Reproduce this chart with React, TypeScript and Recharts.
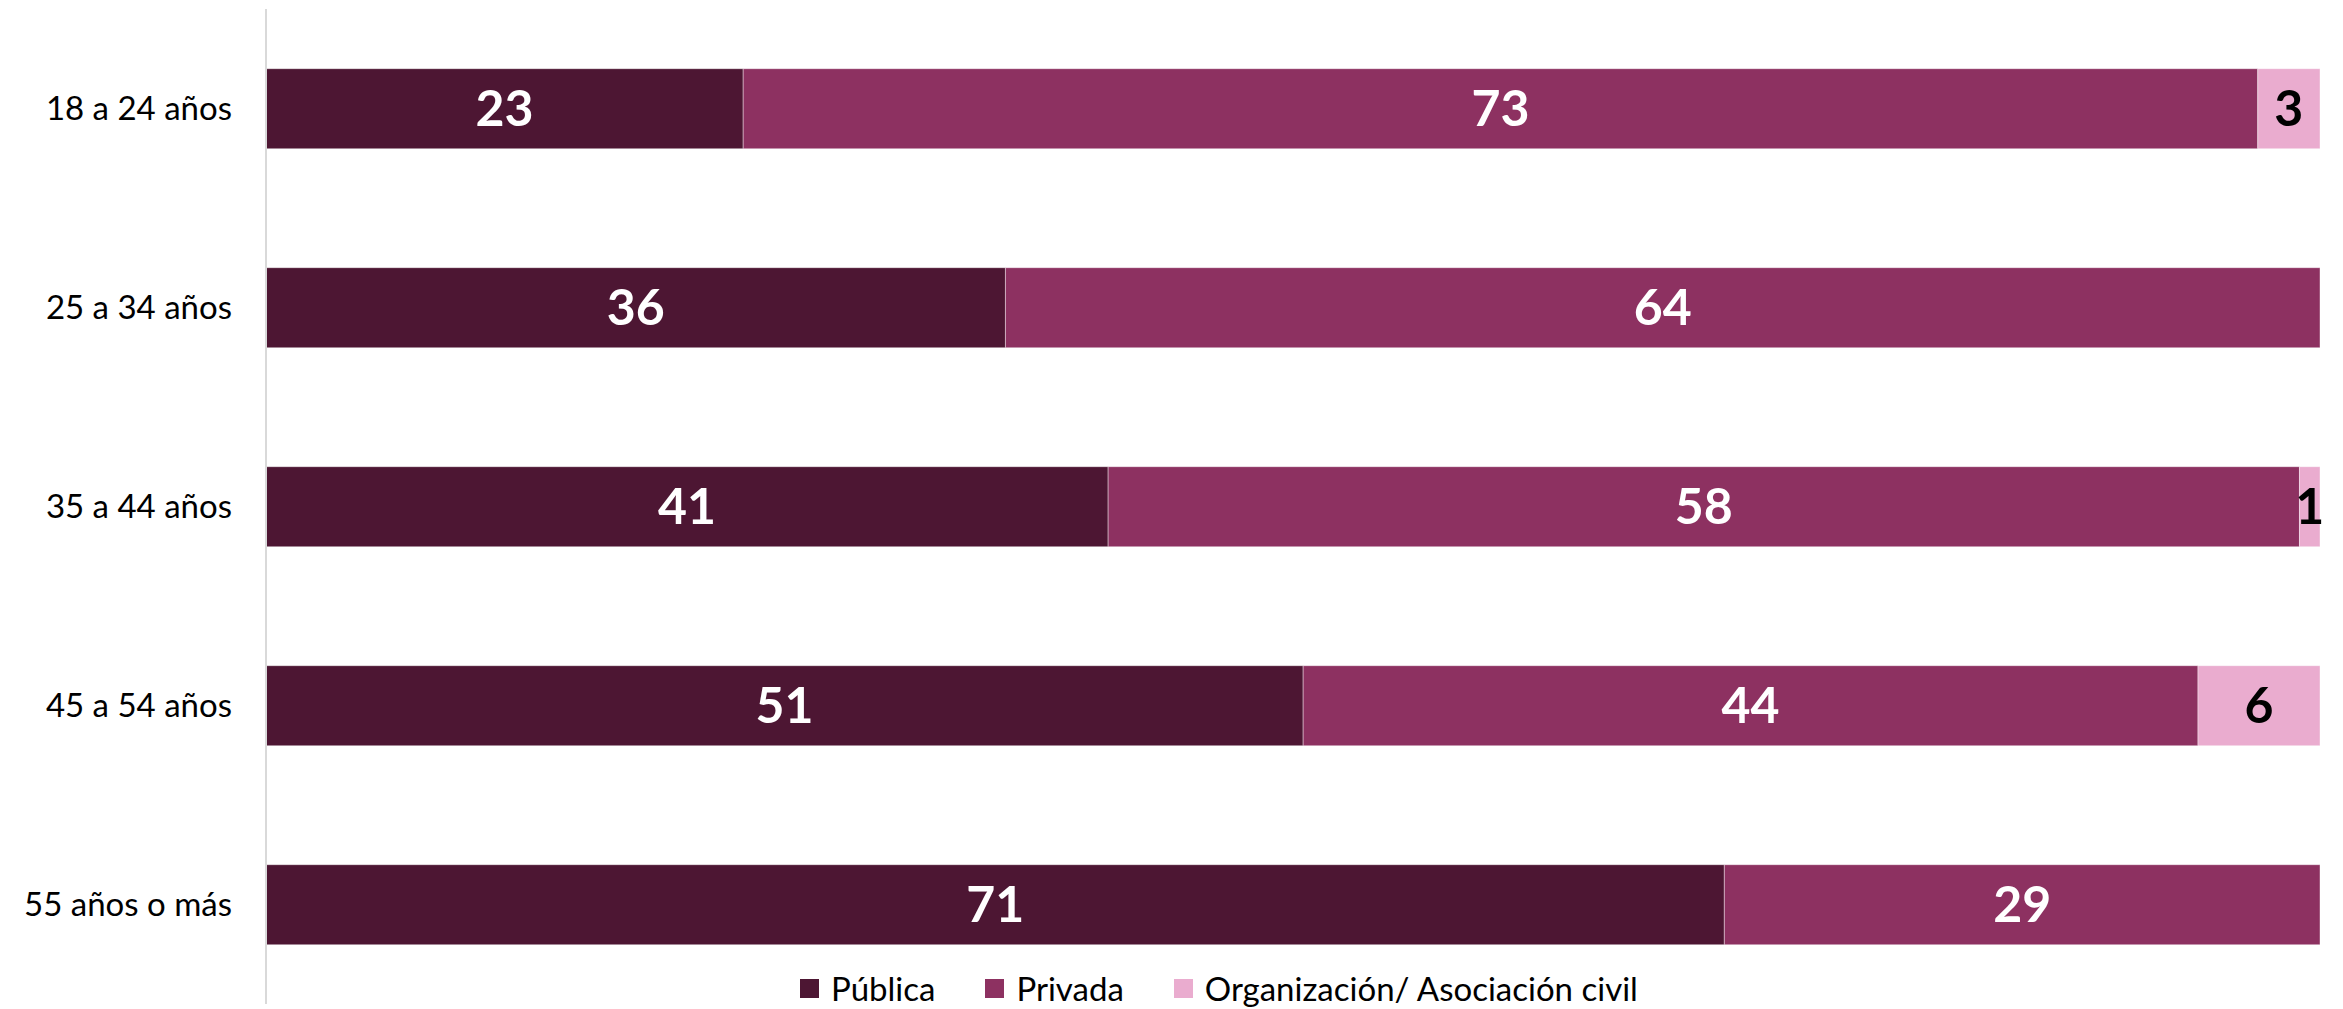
import { BarChart, Bar, XAxis, YAxis, LabelList, Legend } from 'recharts'

const categories = ['18 a 24 años', '25 a 34 años', '35 a 44 años', '45 a 54 años', '55 años o más']
const publica = [23, 36, 41, 51, 71]
const privada = [73, 64, 58, 44, 29]
const organizacion = [3, 0, 1, 6, 0]

const seriesNames = ['Pública', 'Privada', 'Organización/ Asociación civil']
const colors = ['#4D1633', '#8D3161', '#EAACCF']

const data = categories.map((c, i) => ({
  name: c,
  publica: publica[i],
  privada: privada[i],
  organizacion: organizacion[i],
}))

const FONT = 'Lato, "Open Sans", sans-serif'

const hideZero = (v: any) => (Number(v) === 0 ? '' : v)

function LegendContent() {
  return (
    <div style={{ display: 'flex', alignItems: 'center', height: 38, fontFamily: FONT, fontSize: 33, color: '#000' }}>
      {seriesNames.map((n, i) => (
        <div key={n} style={{ display: 'flex', alignItems: 'center', marginRight: i < seriesNames.length - 1 ? 50 : 0 }}>
          <span style={{ width: 19, height: 19, background: colors[i], display: 'inline-block', marginRight: 12 }} />
          <span>{n}</span>
        </div>
      ))}
    </div>
  )
}

export default function App() {
  return (
    <div style={{ position: 'absolute', left: 0, top: 0, width: 2343, height: 1009, background: '#fff' }}>
      <BarChart
        width={2343}
        height={1009}
        data={data}
        layout="vertical"
        stackOffset="expand"
        barCategoryGap="30%"
        margin={{ top: 9, right: 23, bottom: 5, left: 0 }}
      >
        <XAxis type="number" domain={[0, 1]} hide />
        <YAxis
          type="category"
          dataKey="name"
          width={266}
          tickSize={0}
          tickMargin={34}
          axisLine={{ stroke: '#D9D9D9', strokeWidth: 2 }}
          tickLine={false}
          tick={{ fill: '#000', fontSize: 33, fontFamily: FONT }}
        />
        <Legend
          layout="horizontal"
          verticalAlign="middle"
          content={<LegendContent />}
          wrapperStyle={{ top: 969, left: 800, width: 1000 }}
        />
        <Bar dataKey="publica" stackId="a" fill={colors[0]} stroke="#ffffff" strokeOpacity={0.4} strokeWidth={1} isAnimationActive={false}>
          <LabelList dataKey="publica" position="center" formatter={hideZero} fill="#fff" fontSize={50} fontWeight="bold" fontFamily={FONT} />
        </Bar>
        <Bar dataKey="privada" stackId="a" fill={colors[1]} stroke="#ffffff" strokeOpacity={0.4} strokeWidth={1} isAnimationActive={false}>
          <LabelList dataKey="privada" position="center" formatter={hideZero} fill="#fff" fontSize={50} fontWeight="bold" fontFamily={FONT} />
        </Bar>
        <Bar dataKey="organizacion" stackId="a" fill={colors[2]} stroke="#ffffff" strokeOpacity={0.4} strokeWidth={1} isAnimationActive={false}>
          <LabelList dataKey="organizacion" position="center" formatter={hideZero} fill="#000" fontSize={50} fontWeight="bold" fontFamily={FONT} />
        </Bar>
      </BarChart>
    </div>
  )
}
